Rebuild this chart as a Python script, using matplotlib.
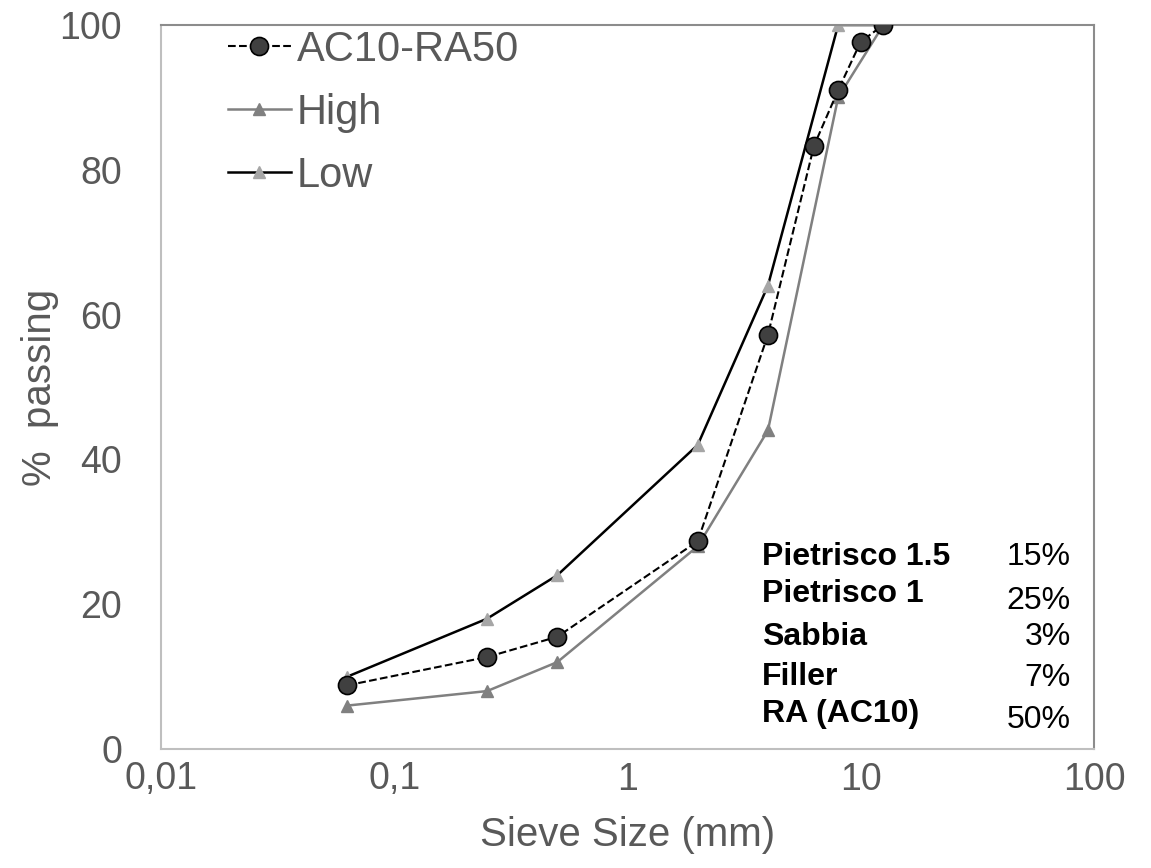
import matplotlib
matplotlib.use("Agg")
import matplotlib.pyplot as plt

plt.rcParams['font.family'] = ['Liberation Sans', 'DejaVu Sans']

# sieve sizes (mm)
sieve_mix = [0.063, 0.25, 0.5, 2, 4, 6.3, 8, 10, 12.5]
pass_mix = [8.8, 12.7, 15.5, 28.7, 57.2, 83.3, 91.0, 97.7, 100]

sieve_env = [0.063, 0.25, 0.5, 2, 4, 8, 12.5]
pass_high = [6, 8, 12, 28, 44, 90, 100]
pass_low = [10, 18, 24, 42, 64, 100, 100]

x_ticks = [0.01, 0.1, 1, 10, 100]
x_tick_labels = ["0,01", "0,1", "1", "10", "100"]
y_ticks = [0, 20, 40, 60, 80, 100]

mix_names = ["Pietrisco 1.5", "Pietrisco 1", "Sabbia", "Filler", "RA (AC10)"]
mix_perc = ["15%", "25%", "3%", "7%", "50%"]

txt_grey = "#595959"

fig = plt.figure(figsize=(11.51, 8.68), dpi=100)
ax = fig.add_axes([161 / 1151, 1 - 749 / 868, (1094 - 161) / 1151, (749 - 25) / 868])

ax.plot(sieve_mix, pass_mix, "--", color="black", lw=1.5, marker="o",
        markersize=13, markerfacecolor="#404040", markeredgecolor="black",
        markeredgewidth=1.2, label="AC10-RA50", zorder=3)
ax.plot(sieve_env, pass_high, "-", color="#808080", lw=1.8, marker="^",
        markersize=8.5, markerfacecolor="#808080", markeredgecolor="#808080",
        label="High", zorder=2)
ax.plot(sieve_env, pass_low, "-", color="black", lw=1.8, marker="^",
        markersize=8.5, markerfacecolor="#a6a6a6", markeredgecolor="#a6a6a6",
        label="Low", zorder=2)

ax.set_xscale("log")
ax.set_xlim(0.01, 100)
ax.set_ylim(0, 100)
ax.set_xticks(x_ticks)
ax.set_xticklabels(x_tick_labels)
ax.minorticks_off()
ax.set_yticks(y_ticks)
ax.tick_params(axis="both", length=0, labelsize=27, labelcolor=txt_grey)
ax.tick_params(axis="y", pad=28)
ax.tick_params(axis="x", pad=9)

ax.set_xlabel("Sieve Size (mm)", fontsize=29, color=txt_grey, labelpad=13)
ax.set_ylabel("%  passing", fontsize=29, color=txt_grey, labelpad=0)

for s in ["left", "bottom"]:
    ax.spines[s].set_color("#bfbfbf")
    ax.spines[s].set_linewidth(1.5)
for s in ["top", "right"]:
    ax.spines[s].set_color("#8c8c8c")
    ax.spines[s].set_linewidth(1.5)

leg = ax.legend(loc="upper left", bbox_to_anchor=(0.072, 0.993), frameon=False,
                fontsize=30, handlelength=1.5, handletextpad=0.15,
                labelspacing=0.55, borderaxespad=0, borderpad=0)
for t in leg.get_texts():
    t.set_color(txt_grey)

# mix composition table
label_y = [557, 594, 637, 677, 714]
value_y = [557, 601, 637, 678, 720]
for name, perc, ly, vy in zip(mix_names, mix_perc, label_y, value_y):
    fig.text(762 / 1151, 1 - ly / 868, name, fontsize=23, fontweight="bold",
             color="black", ha="left", va="center")
    fig.text(1071 / 1151, 1 - vy / 868, perc, fontsize=23,
             color="black", ha="right", va="center")

fig.savefig("out.png", dpi=100)
